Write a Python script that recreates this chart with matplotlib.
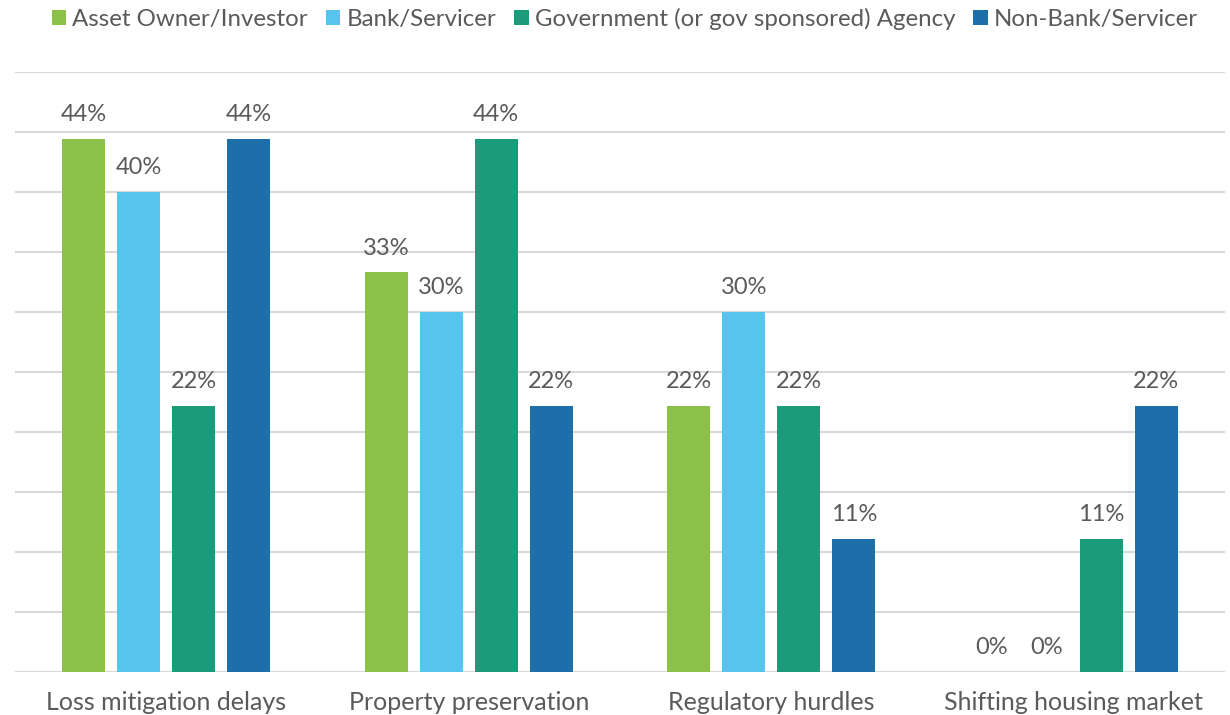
import numpy as np
import matplotlib.pyplot as plt

# --- Dados ---
categorias = ['Loss mitigation delays', 'Property preservation',
              'Regulatory hurdles', 'Shifting housing market']
series = ['Asset Owner/Investor', 'Bank/Servicer',
          'Government (or gov sponsored) Agency', 'Non-Bank/Servicer']
asset_owner = [44.4, 33.3, 22.2, 0.0]
bank = [40.0, 30.0, 30.0, 0.0]
government = [22.2, 44.4, 22.2, 11.1]
non_bank = [44.4, 22.2, 11.1, 22.2]
cores = ['#8BC149', '#56C4EC', '#1A9B7A', '#1D6FA9']

plt.rcParams['font.family'] = ['Lato', 'DejaVu Sans']
cor_texto = '#5A5A5A'

fig = plt.figure(figsize=(12.3, 7.15), dpi=100)
ax = fig.add_axes([15 / 1230, 1 - 672 / 715, 1210 / 1230, 600 / 715])

x = np.arange(len(categorias))
largura = 0.142
passo = 0.182
valores = [asset_owner, bank, government, non_bank]

for i, (nome, vals, cor) in enumerate(zip(series, valores, cores)):
    pos = x + (i - 1.5) * passo
    barras = ax.bar(pos, vals, largura, color=cor, label=nome, zorder=3)
    for b, v in zip(barras, vals):
        ax.annotate(f'{v:.0f}%', (b.get_x() + b.get_width() / 2, v),
                    xytext=(0, 10), textcoords='offset points',
                    ha='center', va='bottom', fontsize=17, color=cor_texto)

ax.set_xlim(-0.5, 3.5)
ax.set_ylim(0, 50)
ax.set_yticks(np.arange(0, 51, 5))
ax.yaxis.grid(True, color='#D9D9D9', linewidth=1.5, zorder=0)
ax.tick_params(axis='y', left=False, labelleft=False)
ax.tick_params(axis='x', bottom=False, pad=10)
ax.set_xticks(x)
ax.set_xticklabels(categorias, fontsize=18, color=cor_texto)
for lado in ['top', 'right', 'left', 'bottom']:
    ax.spines[lado].set_visible(False)

fig.legend(loc='center', bbox_to_anchor=(0.508, 0.974), ncol=4, frameon=False,
           fontsize=17.3, handlelength=0.6, handleheight=0.6, handletextpad=0.25,
           columnspacing=0.75, labelcolor=cor_texto)

plt.savefig('out.png', dpi=100)
